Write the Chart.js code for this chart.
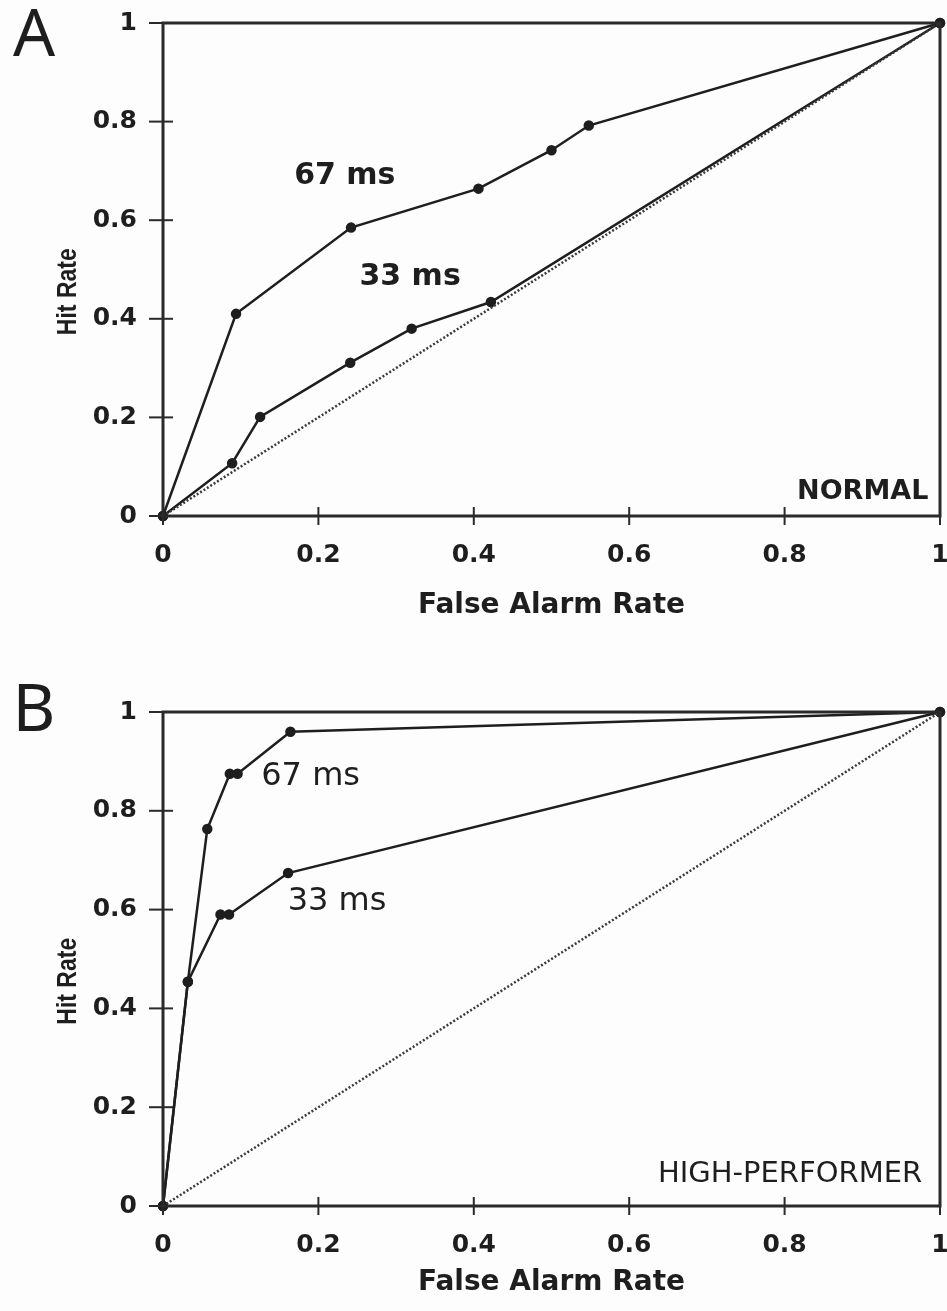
<!DOCTYPE html>
<html>
<head>
<meta charset="utf-8">
<script src="https://cdn.jsdelivr.net/npm/chart.js@4.4.1/dist/chart.umd.min.js"></script>
<style>
  body { margin: 0; background: #fdfdfd; }
  .panel { position: absolute; left: 0; }
  #panelA { top: 0; }
  #panelB { top: 655px; }
</style>
</head>
<body>
<div class="panel" id="panelA"><canvas id="chartA" width="947" height="655"></canvas></div>
<div class="panel" id="panelB"><canvas id="chartB" width="947" height="656"></canvas></div>
<script>
// Panel A (NORMAL) - false alarm rate / hit rate pairs
const fpr67A = [0, 0.094, 0.242, 0.406, 0.5, 0.548, 1];
const hit67A = [0, 0.41, 0.585, 0.664, 0.742, 0.792, 1];
const fpr33A = [0, 0.089, 0.125, 0.241, 0.32, 0.422, 1];
const hit33A = [0, 0.107, 0.201, 0.311, 0.38, 0.434, 1];

// Panel B (HIGH-PERFORMER)
const fpr67B = [0, 0.032, 0.057, 0.086, 0.096, 0.164, 1];
const hit67B = [0, 0.454, 0.763, 0.875, 0.875, 0.96, 1];
const fpr33B = [0, 0.032, 0.074, 0.085, 0.161, 1];
const hit33B = [0, 0.454, 0.59, 0.59, 0.674, 1];

// chance diagonal
const chanceX = [0, 1];
const chanceY = [0, 1];

const tickValues = [0, 0.2, 0.4, 0.6, 0.8, 1];
const tickLabels = ['0', '0.2', '0.4', '0.6', '0.8', '1'];

const ink = '#1e1e1e';
const boldFont = 'DejaVu Sans';

function toPoints(xs, ys) {
    return xs.map((x, i) => ({ x: x, y: ys[i] }));
}

function curve(xs, ys) {
    return {
        data: toPoints(xs, ys),
        borderColor: ink,
        borderWidth: 2.5,
        pointRadius: 4,
        pointBackgroundColor: ink,
        pointBorderColor: ink,
        pointStyle: 'circle',
        tension: 0,
        clip: false
    };
}

function chance() {
    return {
        data: toPoints(chanceX, chanceY),
        borderColor: '#3a3a3a',
        borderWidth: 2.5,
        borderDash: [2, 2],
        pointRadius: 0,
        tension: 0,
        clip: false
    };
}

// frame, cross ticks, y title and text labels
const panelDecor = {
    id: 'panelDecor',
    afterDraw(chart, args, opts) {
        const { ctx, chartArea: a } = chart;
        const xs = chart.scales.x;
        const ys = chart.scales.y;
        ctx.save();
        ctx.strokeStyle = '#2a2a2a';
        ctx.lineWidth = 3;
        ctx.strokeRect(a.left, a.top, a.right - a.left, a.bottom - a.top);

        ctx.lineWidth = 2;
        tickValues.forEach(v => {
            const px = xs.getPixelForValue(v);
            ctx.beginPath();
            ctx.moveTo(px, a.bottom - 9);
            ctx.lineTo(px, a.bottom + 9);
            ctx.stroke();
            const py = ys.getPixelForValue(v);
            ctx.beginPath();
            ctx.moveTo(a.left - 14, py);
            ctx.lineTo(a.left + 10, py);
            ctx.stroke();
        });

        ctx.fillStyle = ink;
        ctx.textBaseline = 'middle';
        opts.labels.forEach(l => {
            ctx.font = l.font;
            ctx.textAlign = l.align || 'center';
            ctx.fillText(l.text, xs.getPixelForValue(l.x), ys.getPixelForValue(l.y));
        });

        // y axis title sits a little below the axis middle in the original
        ctx.save();
        ctx.translate(68, ys.getPixelForValue(0.455));
        ctx.rotate(-Math.PI / 2);
        ctx.scale(1, 1.2);
        ctx.font = 'bold 23px "Liberation Sans"';
        ctx.textAlign = 'center';
        ctx.fillText('Hit Rate', 0, 0);
        ctx.restore();

        ctx.font = '400 66px "Noto Sans"';
        ctx.textAlign = 'center';
        ctx.fillText(opts.letter, 34, opts.letterY);
        ctx.restore();
    }
};

function buildOptions(cfg) {
    return {
        responsive: false,
        animation: false,
        devicePixelRatio: 1,
        layout: { padding: { top: cfg.padTop, right: 7, left: 0, bottom: 0 } },
        plugins: {
            legend: { display: false },
            tooltip: { enabled: false },
            panelDecor: { labels: cfg.labels, letter: cfg.letter, letterY: cfg.letterY }
        },
        scales: {
            x: {
                type: 'linear',
                min: 0,
                max: 1,
                afterBuildTicks: s => { s.ticks = tickValues.map(v => ({ value: v })); },
                afterFit: s => {
                    s.height = cfg.xHeight;
                    s.paddingLeft = 0;
                    s.paddingRight = 0;
                },
                grid: { display: false, drawTicks: false },
                border: { display: false },
                ticks: {
                    padding: 24,
                    color: ink,
                    font: { family: boldFont, size: 25, weight: 'bold' },
                    maxRotation: 0,
                    callback: (v, i) => tickLabels[i]
                },
                title: {
                    display: true,
                    text: 'False Alarm Rate',
                    color: ink,
                    font: { family: boldFont, size: 28, weight: 'bold' },
                    padding: { top: 0, bottom: cfg.xTitlePad }
                }
            },
            y: {
                type: 'linear',
                min: 0,
                max: 1,
                afterBuildTicks: s => { s.ticks = tickValues.map(v => ({ value: v })); },
                afterFit: s => {
                    s.width = 163;
                    s.paddingTop = 0;
                    s.paddingBottom = 0;
                },
                grid: { display: false, drawTicks: false },
                border: { display: false },
                ticks: {
                    padding: 26,
                    color: ink,
                    font: { family: boldFont, size: 25, weight: 'bold' },
                    callback: (v, i) => tickLabels[i]
                },
                title: { display: false }
            }
        }
    };
}

new Chart(document.getElementById('chartA'), {
    type: 'line',
    data: { datasets: [chance(), curve(fpr33A, hit33A), curve(fpr67A, hit67A)] },
    options: buildOptions({
        padTop: 23,
        xHeight: 139,
        xTitlePad: 32,
        letter: 'A',
        letterY: 37,
        labels: [
            { text: '67 ms', x: 0.234, y: 0.69, font: 'bold 30px "DejaVu Sans"' },
            { text: '33 ms', x: 0.318, y: 0.485, font: 'bold 30px "DejaVu Sans"' },
            { text: 'NORMAL', x: 0.985, y: 0.049, font: 'bold 27px "DejaVu Sans"', align: 'right' }
        ]
    }),
    plugins: [panelDecor]
});

new Chart(document.getElementById('chartB'), {
    type: 'line',
    data: { datasets: [chance(), curve(fpr33B, hit33B), curve(fpr67B, hit67B)] },
    options: buildOptions({
        padTop: 57,
        xHeight: 105,
        xTitlePad: 11,
        letter: 'B',
        letterY: 57,
        labels: [
            { text: '67 ms', x: 0.19, y: 0.87, font: '32px "DejaVu Sans"' },
            { text: '33 ms', x: 0.224, y: 0.617, font: '32px "DejaVu Sans"' },
            { text: 'HIGH-PERFORMER', x: 0.977, y: 0.063, font: '29px "DejaVu Sans"', align: 'right' }
        ]
    }),
    plugins: [panelDecor]
});
</script>
</body>
</html>
